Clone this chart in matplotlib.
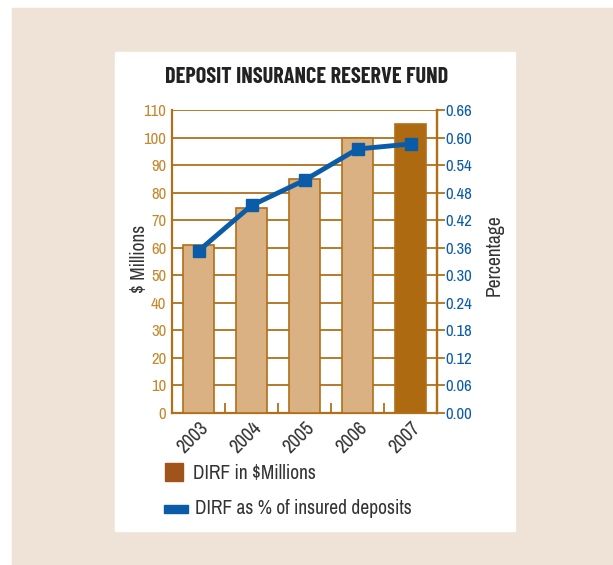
import matplotlib.pyplot as plt
from matplotlib.patches import Rectangle

# Datos
years = ['2003', '2004', '2005', '2006', '2007']
dirf_millions = [61, 74.5, 85, 100, 105]
dirf_pct = [0.353, 0.452, 0.507, 0.575, 0.586]
left_ticks = list(range(0, 111, 10))
right_ticks = [0.00, 0.06, 0.12, 0.18, 0.24, 0.30, 0.36, 0.42, 0.48, 0.54, 0.60, 0.66]

BEIGE = '#efe2d6'
BROWN = '#b0701a'
TAN = '#dab182'
DARK = '#ad6a10'
BLUE = '#0b5ca8'
LABEL_TAN = '#c4882e'
TXT = '#333333'
NARROW = ['Archivo Narrow', 'DejaVu Sans']
TITLE_FONT = ['Barlow Condensed', 'DejaVu Sans']

fig = plt.figure(figsize=(6.13, 5.65), dpi=100)
W, H = 613, 565

def box(x0, y0, x1, y1, color):
    fig.patches.append(Rectangle((x0 / W, 1 - y1 / H), (x1 - x0) / W, (y1 - y0) / H,
                                 transform=fig.transFigure, color=color, zorder=-10))

box(12, 8, 613, 565, BEIGE)
box(115, 52, 515, 531, 'white')

ax = fig.add_axes([172 / W, 1 - 413 / H, 265 / W, 303 / H])
ax.set_facecolor('none')
x = range(len(years))
colors = [TAN] * 4 + [DARK]
ax.bar(x, dirf_millions, width=0.58, color=colors, edgecolor=BROWN, linewidth=1.2, zorder=3)
ax.set_ylim(0, 110)
ax.set_xlim(-0.5, 4.5)
ax.set_yticks(left_ticks)
ax.set_yticklabels([str(v) for v in left_ticks], family=NARROW, fontsize=12)
ax.yaxis.grid(True, color=BROWN, linewidth=1.3, zorder=0)
ax.set_axisbelow(True)
ax.tick_params(axis='y', colors=BROWN, labelcolor=LABEL_TAN, length=0, pad=4)
ax.set_xticks(list(x))
ax.set_xticklabels(years, rotation=45, ha='right', rotation_mode='anchor',
                   fontsize=14, color=TXT, family=NARROW)
ax.tick_params(axis='x', length=0, pad=4)
ax.set_xticks([i + 0.5 for i in range(4)], minor=True)
ax.tick_params(axis='x', which='minor', direction='in', length=7, color=BROWN, width=1.3)
ax.spines['top'].set_visible(False)
for side in ['left', 'bottom', 'right']:
    ax.spines[side].set_color(BROWN)
    ax.spines[side].set_linewidth(1.6)
ax.set_ylabel('$ Millions', fontsize=14, color=TXT, family=NARROW)
ax.yaxis.set_label_coords(-0.085, 0.51)

ax2 = ax.twinx()
ax2.plot(list(x), dirf_pct, color=BLUE, linewidth=3.5, marker='s', markersize=9, zorder=5)
ax2.set_ylim(0, 0.66)
ax2.set_yticks(right_ticks)
ax2.set_yticklabels([f'{v:.2f}' for v in right_ticks], family=NARROW, fontsize=12, color=BLUE)
ax2.tick_params(axis='y', colors=BROWN, labelcolor=BLUE, length=6, width=1.3, pad=0)
for side in ['top', 'left', 'bottom']:
    ax2.spines[side].set_visible(False)
ax2.spines['right'].set_color(BROWN)
ax2.spines['right'].set_linewidth(1.6)
ax2.set_ylabel('Percentage', fontsize=14, color=TXT, family=NARROW)
ax2.yaxis.set_label_coords(1.18, 0.52)

fig.text(307 / W, 1 - 77 / H, 'DEPOSIT INSURANCE RESERVE FUND', ha='center', va='center',
         fontsize=16, fontweight='bold', color='#222222', family=TITLE_FONT)

# Leyenda
box(165, 463, 183, 481, '#a0531a')
fig.text(193 / W, 1 - 473 / H, 'DIRF in $Millions', va='center', fontsize=14, color=TXT, family=NARROW)
box(164, 505, 188, 513, BLUE)
fig.text(195 / W, 1 - 508 / H, 'DIRF as % of insured deposits', va='center', fontsize=14,
         color=TXT, family=NARROW)

fig.savefig('out.png', dpi=100, facecolor='white')
